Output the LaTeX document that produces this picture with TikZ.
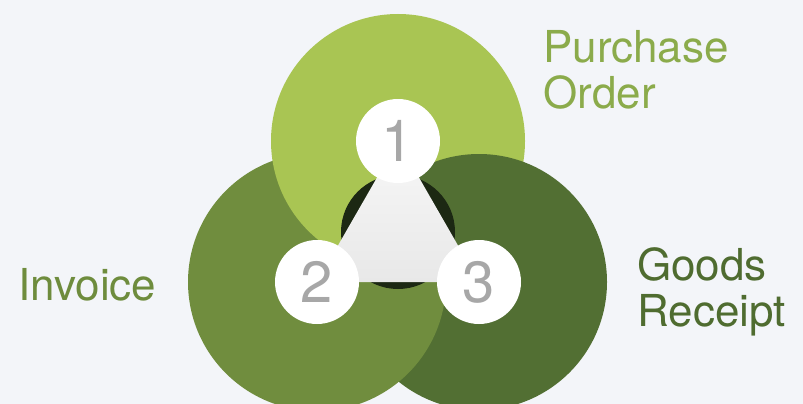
\documentclass[tikz,border=0pt]{standalone}
\usepackage{fontspec}
\setmainfont{TeX Gyre Heros}
\usetikzlibrary{positioning}

\definecolor{bgcol}{HTML}{F3F5F9}
\definecolor{pogreen}{HTML}{A9C553}
\definecolor{invgreen}{HTML}{708D3E}
\definecolor{grgreen}{HTML}{526F33}
\definecolor{potext}{HTML}{8BAB4B}
\definecolor{invtext}{HTML}{6E8C3D}
\definecolor{grtext}{HTML}{4F6C30}
\definecolor{numgray}{HTML}{A7A7A7}
\definecolor{darkshade}{HTML}{1C2813}

\begin{document}
\begin{tikzpicture}[x=1pt, y=-1pt,
	big/.style={circle, inner sep=0pt},
	num/.style={circle, fill=white, inner sep=0pt, minimum size=84pt, text=numgray, font=\fontsize{58}{58}\selectfont},
	lbl/.style={anchor=north west, inner sep=0pt, align=left, font=\fontsize{44}{46}\selectfont}]

	\useasboundingbox (0,0) rectangle (803,404);
	\clip (0,0) rectangle (803,404);
	\fill[bgcol] (0,0) rectangle (803,404);

	%% Big circles
	\node[big, fill=grgreen, minimum size=256pt] (gr) at (479,282) {};
	\node[big, fill=invgreen, minimum size=258pt] (inv) at (317,282) {};
	\node[big, fill=pogreen, minimum size=254pt] (po) at (398,141) {};

	% dark circle lies over the light one
	\begin{scope}
		\clip (po.center) circle (128pt);
		\fill[grgreen] (gr.center) circle (128pt);
	\end{scope}

	%% Middle
	\coordinate (mid) at (398,232);
	\fill[darkshade] (mid) circle (57pt);
	\shade[top color=white!97!black, bottom color=white!91!black] (po.center) -- (inv.center) -- (gr.center) -- cycle;

	\node[num] (n1) at (po.center) {1};
	\node[num] (n2) at (inv.center) {2};
	\node[num] (n3) at (gr.center) {3};

	%% Labels
	\node[lbl, text=potext] (po_txt) at (543,30) {Purchase\\Order};
	\node[lbl, text=invtext] (inv_txt) at (18,268) {Invoice};
	\node[lbl, text=grtext] (gr_txt) at (637,247) {Goods\\Receipt};

\end{tikzpicture}
\end{document}
